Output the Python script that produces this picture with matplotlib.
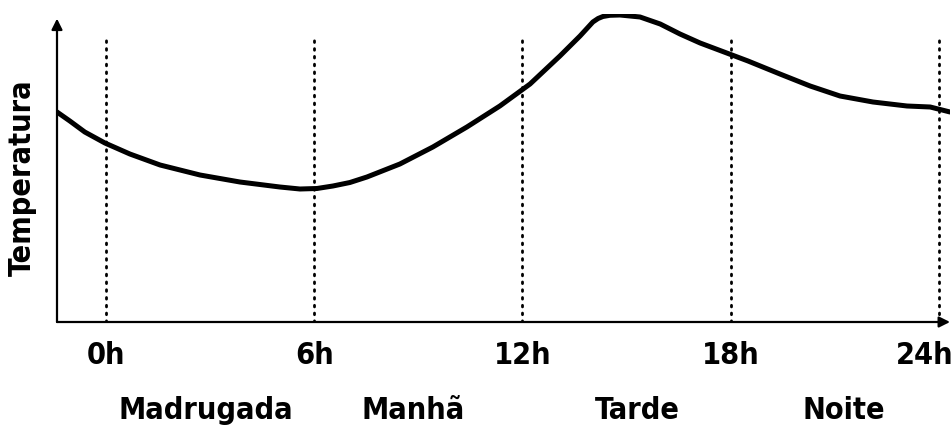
import matplotlib
matplotlib.use("Agg")
import matplotlib.pyplot as plt
from matplotlib import font_manager as fm
from matplotlib import transforms

# curve (hours, arbitrary temperature units)
hours = [-1.41, -1.04, -0.61, -0.03, 0.69, 1.56, 2.71, 3.86, 5.01, 5.59, 6.08,
         6.54, 7.03, 7.52, 8.47, 9.42, 10.40, 11.35, 12.22, 13.08, 13.66, 14.03,
         14.18, 14.32, 14.52, 14.81, 15.39, 15.97, 16.54, 17.12, 18.50, 19.42,
         20.29, 21.15, 22.10, 23.08, 23.75, 24.32]
temp = [21.0, 20.1, 19.0, 17.9, 16.8, 15.7, 14.7, 14.0, 13.5, 13.3, 13.35,
        13.6, 13.95, 14.5, 15.8, 17.5, 19.5, 21.6, 23.8, 26.6, 28.6, 30.0,
        30.35, 30.55, 30.67, 30.7, 30.5, 29.8, 28.8, 27.9, 26.1, 24.8,
        23.6, 22.6, 22.0, 21.6, 21.5, 21.0]

tick_hours = [0, 6, 12, 18, 24]
tick_labels = ['0h', '6h', '12h', '18h', '24h']
periods = ['Madrugada', 'Manhã', 'Tarde', 'Noite']
period_centers = [2.88, 8.85, 15.30, 21.27]

# look for a narrow / condensed bold face, like the one in the picture
font = None
for f in fm.fontManager.ttflist:
    narrow = ('Narrow' in f.name or 'Condensed' in f.name
              or f.stretch in ('condensed', 'semi-condensed', 'extra-condensed', 125, 75, 87))
    if narrow and f.weight in ('bold', 700, 'semibold', 600, 'demibold'):
        font = f.fname
        break
if font is None:
    for f in fm.fontManager.ttflist:
        if 'Condensed' in f.name or 'Narrow' in f.name or 'Condensed' in f.fname:
            font = f.fname
            break

def fp(size):
    if font:
        return fm.FontProperties(fname=font, size=size)
    return fm.FontProperties(family='Roboto', weight='bold', size=size)

fig = plt.figure(figsize=(9.52, 4.31), dpi=100)
ax = fig.add_axes([57/952, 1 - 323/431, (950 - 57)/952, (323 - 15)/431])

ax.plot(hours, temp, color='black', lw=3.6, solid_capstyle='round',
        solid_joinstyle='round')

for h in tick_hours:
    ax.plot([h, h], [0, 28.5], color='black', lw=2.0, linestyle=(0, (0.6, 2.2)),
            dash_capstyle='round')

ax.set_xlim(hours[0], hours[-1])
ax.set_ylim(0, 30.8)
for s in ax.spines.values():
    s.set_visible(False)

# axes with arrows
ax.annotate('', xy=(1.0, 0), xytext=(0, 0), xycoords='axes fraction',
            arrowprops=dict(arrowstyle='-|>', color='black', lw=1.6,
                            mutation_scale=16, shrinkA=0, shrinkB=0))
ax.annotate('', xy=(0, 0.985), xytext=(0, 0), xycoords='axes fraction',
            arrowprops=dict(arrowstyle='-|>', color='black', lw=1.6,
                            mutation_scale=16, shrinkA=0, shrinkB=0))

ax.set_xticks(tick_hours)
ax.set_xticklabels(tick_labels, fontproperties=fp(22))
ax.tick_params(axis='x', length=0, pad=13)
ax.set_yticks([])
# last label sits a bit to the left of its line, as in the picture
last = ax.get_xticklabels()[-1]
last.set_transform(last.get_transform() + transforms.ScaledTranslation(-14/100, 0, fig.dpi_scale_trans))

for name, c in zip(periods, period_centers):
    ax.text(c, -0.285, name, transform=ax.get_xaxis_transform(), ha='center',
            va='center', fontproperties=fp(22))

fig.text(22/952, 1 - 178/431, 'Temperatura', rotation=90, ha='center',
         va='center', fontproperties=fp(22))

fig.savefig('out.png', dpi=100)
